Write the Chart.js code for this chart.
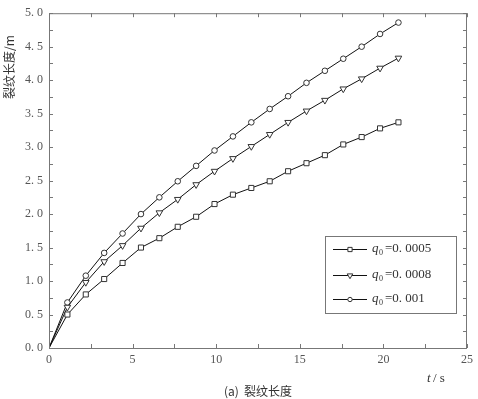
<!DOCTYPE html>
<html>
<head>
<meta charset="utf-8">
<script src="https://cdn.jsdelivr.net/npm/chart.js@4"></script>
<style>
  html, body { margin: 0; padding: 0; background: #fff; }
  #wrap { width: 478px; height: 399px; }
</style>
</head>
<body>
<div id="wrap"><canvas id="crack"></canvas></div>
<script>
// time points (s)
const times = [0, 1.1, 2.2, 3.3, 4.4, 5.5, 6.6, 7.7, 8.8, 9.9, 11.0, 12.1, 13.2, 14.3, 15.4, 16.5, 17.6, 18.7, 19.8, 20.9];
// crack length (m) per q0
const len0005 = [0, 0.50, 0.80, 1.03, 1.27, 1.50, 1.64, 1.81, 1.96, 2.15, 2.29, 2.39, 2.49, 2.64, 2.76, 2.88, 3.04, 3.15, 3.28, 3.37];
const len0008 = [0, 0.61, 0.98, 1.29, 1.53, 1.79, 2.02, 2.22, 2.44, 2.64, 2.83, 3.01, 3.19, 3.37, 3.54, 3.70, 3.87, 4.02, 4.18, 4.33];
const len001  = [0, 0.68, 1.08, 1.42, 1.71, 2.00, 2.25, 2.49, 2.72, 2.95, 3.16, 3.37, 3.57, 3.76, 3.96, 4.14, 4.32, 4.50, 4.69, 4.86];
const seriesNames = ['0. 0005', '0. 0008', '0. 001'];
const xTicks = [0, 5, 10, 15, 20, 25];

const serif = '"Liberation Serif", "DejaVu Serif", serif';
const cjk = '"Noto Sans CJK SC", sans-serif';

function toPoints(ys) {
    return times.map((t, i) => ({x: t, y: ys[i]}));
}

function markerRadius(r) {
    return ctx => ctx.dataIndex === 0 ? 0 : r;
}

const styles = [
    {style: 'rect', r: 3.6, rot: 0},
    {style: 'triangle', r: 3.8, rot: 180},
    {style: 'circle', r: 2.8, rot: 0}
];

const datasets = [len0005, len0008, len001].map((ys, i) => ({
    label: seriesNames[i],
    data: toPoints(ys),
    showLine: true,
    borderColor: '#111',
    borderWidth: 1,
    pointStyle: styles[i].style,
    pointRotation: styles[i].rot,
    pointRadius: markerRadius(styles[i].r),
    pointBackgroundColor: '#fff',
    pointBorderColor: '#333',
    pointBorderWidth: 1
}));

// frame, inward ticks, titles and legend
const decor = {
    id: 'decor',
    afterDraw(chart) {
        const c = chart.ctx;
        const a = chart.chartArea;
        const xs = chart.scales.x, ys = chart.scales.y;
        c.save();
        c.strokeStyle = '#777';
        c.lineWidth = 1;
        c.strokeRect(a.left + 0.5, a.top + 0.5, a.right - a.left - 1, a.bottom - a.top);

        c.beginPath();
        for (let v = 0; v <= 25; v += 2.5) {
            const px = Math.round(xs.getPixelForValue(v)) + 0.5;
            c.moveTo(px, a.bottom); c.lineTo(px, a.bottom - 4);
            c.moveTo(px, a.top); c.lineTo(px, a.top + 4);
        }
        for (let v = 0; v <= 5; v += 0.25) {
            const py = Math.round(ys.getPixelForValue(v)) + 0.5;
            c.moveTo(a.left, py); c.lineTo(a.left + 4, py);
            c.moveTo(a.right, py); c.lineTo(a.right - 4, py);
        }
        c.stroke();

        // y title
        c.fillStyle = '#333';
        c.save();
        c.translate(9, 67);
        c.rotate(-Math.PI / 2);
        c.textAlign = 'center';
        c.textBaseline = 'middle';
        c.font = '12px ' + cjk;
        c.fillText('裂纹长度/m', 0, 0);
        c.restore();

        // x title
        c.textBaseline = 'middle';
        c.textAlign = 'left';
        c.font = 'italic 13px ' + serif;
        c.fillText('t', 427, 379);
        c.font = '13px ' + serif;
        c.fillText('/ s', 433, 379);

        // caption
        c.textAlign = 'center';
        c.font = '12px ' + cjk;
        c.fillText('(a)  裂纹长度', 258, 391);

        // legend
        const bx = 325.5, by = 236.5, bw = 131, bh = 77;
        c.fillStyle = '#fff';
        c.fillRect(bx, by, bw, bh);
        c.strokeStyle = '#777';
        c.strokeRect(bx, by, bw, bh);
        const rows = [249, 275, 299];
        chart.data.datasets.forEach((ds, i) => {
            const y = rows[i];
            c.strokeStyle = '#111';
            c.beginPath();
            c.moveTo(333, y + 0.5); c.lineTo(367, y + 0.5);
            c.stroke();
            c.strokeStyle = '#333';
            c.fillStyle = '#fff';
            Chart.helpers.drawPoint(c, {pointStyle: ds.pointStyle, rotation: ds.pointRotation,
                radius: styles[i].r - 0.6, borderWidth: 1}, 350, y + 0.5);
            c.fillStyle = '#333';
            c.textAlign = 'left';
            c.textBaseline = 'middle';
            c.font = 'italic 13px ' + serif;
            c.fillText('q', 372, y);
            c.font = '8px ' + serif;
            c.fillText('0', 379, y + 4);
            c.font = '13px ' + serif;
            c.fillText('=' + ds.label, 385, y);
        });
        c.restore();
    }
};

new Chart(document.getElementById('crack'), {
    type: 'scatter',
    data: {datasets: datasets},
    options: {
        responsive: true,
        maintainAspectRatio: false,
        animation: false,
        layout: {padding: {top: 3, right: 3, left: 0, bottom: 0}},
        plugins: {
            legend: {display: false},
            tooltip: {enabled: false}
        },
        scales: {
            x: {
                type: 'linear',
                min: 0, max: 25,
                afterBuildTicks: s => { s.ticks = xTicks.map(v => ({value: v})); },
                afterFit: s => { s.height = 51; },
                grid: {display: false, drawTicks: false},
                border: {display: false},
                ticks: {
                    padding: 5,
                    color: '#555',
                    font: {family: serif, size: 12},
                    maxRotation: 0
                }
            },
            y: {
                type: 'linear',
                min: 0, max: 5,
                afterFit: s => { s.width = 49; },
                grid: {display: false, drawTicks: false},
                border: {display: false},
                ticks: {
                    stepSize: 0.5,
                    padding: 6,
                    color: '#555',
                    font: {family: serif, size: 12},
                    callback: v => v.toFixed(1).replace('.', '. ')
                }
            }
        }
    },
    plugins: [decor]
});
</script>
</body>
</html>
